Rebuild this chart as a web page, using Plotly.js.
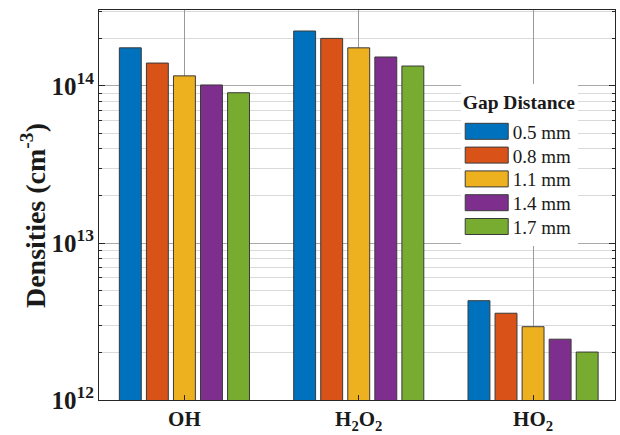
<!DOCTYPE html>
<html>
<head>
<meta charset="utf-8">
<script src="https://cdn.plot.ly/plotly-3.0.1.min.js"></script>
<style>
  html, body { margin: 0; padding: 0; background: #fff; }
  #chart { width: 620px; height: 435px; }
</style>
</head>
<body>
<div id="chart"></div>
<script>
// Species on the x axis
var species = ['OH', 'H<sub>2</sub>O<sub>2</sub>', 'HO<sub>2</sub>'];

// Gap distances (one bar series each)
var gapLabels = ['0.5 mm', '0.8 mm', '1.1 mm', '1.4 mm', '1.7 mm'];

// Densities in cm^-3 for each gap distance, ordered as species
var gap05 = [1.75e14, 2.24e14, 4.29e12];
var gap08 = [1.40e14, 2.01e14, 3.57e12];
var gap11 = [1.16e14, 1.75e14, 2.93e12];
var gap14 = [1.015e14, 1.53e14, 2.44e12];
var gap17 = [9.06e13, 1.34e14, 2.02e12];

var seriesValues = [gap05, gap08, gap11, gap14, gap17];
var barColors = ['#0072BD', '#D95319', '#EDB120', '#7E2F8E', '#77AC30'];

var serif = 'Liberation Serif, Times New Roman, serif';
var ink = '#1a1a1a';

var traces = seriesValues.map(function (vals, i) {
  return {
    type: 'bar',
    name: gapLabels[i],
    x: species,
    y: vals,
    marker: { color: barColors[i], line: { color: '#3a3a3a', width: 1 } },
    hoverinfo: 'skip'
  };
});

var layout = {
  width: 620,
  height: 435,
  margin: { l: 99, r: 5, t: 10, b: 35 },
  paper_bgcolor: '#ffffff',
  plot_bgcolor: '#ffffff',
  barmode: 'group',
  bargap: 0.224,
  bargroupgap: 0.19,
  showlegend: true,
  font: { family: serif, color: ink },
  xaxis: {
    type: 'category',
    range: [-0.49, 2.47],
    showline: true,
    linecolor: '#262626',
    linewidth: 1,
    mirror: true,
    ticks: 'inside',
    ticklen: 5,
    tickcolor: '#262626',
    showgrid: true,
    gridcolor: '#9a9a9a',
    gridwidth: 1,
    tickfont: { family: serif, size: 21, weight: 'bold', color: ink },
    zeroline: false
  },
  yaxis: {
    type: 'log',
    range: [12, 14.484],
    dtick: 1,
    exponentformat: 'power',
    showexponent: 'all',
    showline: true,
    linecolor: '#262626',
    linewidth: 1,
    mirror: 'ticks',
    ticks: 'inside',
    ticklen: 6,
    tickcolor: '#262626',
    showgrid: true,
    gridcolor: '#aaaaaa',
    minor: {
      dtick: 'D1',
      showgrid: true,
      gridcolor: '#dadada',
      ticks: 'inside',
      ticklen: 3,
      tickcolor: '#262626'
    },
    tickfont: { family: serif, size: 20, weight: 'bold', color: ink },
    zeroline: false
  },
  // Axis title placed as a rotated annotation left of the tick labels
  annotations: [{
    text: 'Densities (cm<sup>-3</sup>)',
    textangle: -90,
    xref: 'paper',
    yref: 'paper',
    x: -0.128,
    y: 0.474,
    xanchor: 'center',
    yanchor: 'middle',
    showarrow: false,
    font: { family: serif, size: 28, weight: 'bold', color: ink }
  }],
  legend: {
    x: 0.701,
    y: 0.81,
    xanchor: 'left',
    yanchor: 'top',
    bgcolor: '#ffffff',
    borderwidth: 0,
    itemwidth: 42,
    tracegroupgap: 0,
    font: { family: serif, size: 19, color: ink },
    title: { text: 'Gap Distance', side: 'top', font: { family: serif, size: 19.5, weight: 'bold', color: ink } },
    itemclick: false,
    itemdoubleclick: false
  }
};

function parseTranslate(s) {
  var m = /translate\(\s*([-\d.e]+)[ ,]+([-\d.e]+)\s*\)/.exec(s || '');
  return m ? { x: parseFloat(m[1]), y: parseFloat(m[2]) } : { x: 0, y: 0 };
}

Plotly.newPlot('chart', traces, layout, { staticPlot: true, displayModeBar: false }).then(function (gd) {
  // Widen the legend swatches into long rectangles
  gd.querySelectorAll('.legend .traces .legendpoints path').forEach(function (p) {
    p.setAttribute('d', 'M-21.5,-8H21.5V8H-21.5Z');
  });

  // Tighten legend rows to a fixed pitch
  var items = gd.querySelectorAll('.legend .traces');
  if (items.length > 1) {
    var first = parseTranslate(items[0].getAttribute('transform'));
    var second = parseTranslate(items[1].getAttribute('transform'));
    var oldPitch = second.y - first.y;
    var pitch = 23.8;
    var startY = first.y + 3;
    items.forEach(function (g, i) {
      var t = parseTranslate(g.getAttribute('transform'));
      g.setAttribute('transform', 'translate(' + t.x + ',' + (startY + i * pitch) + ')');
    });
    var bg = gd.querySelector('.legend rect.bg');
    if (bg) {
      var h = parseFloat(bg.getAttribute('height'));
      bg.setAttribute('height', h - (oldPitch - pitch) * (items.length - 1) + 3);
    }
  }
});
</script>
</body>
</html>
